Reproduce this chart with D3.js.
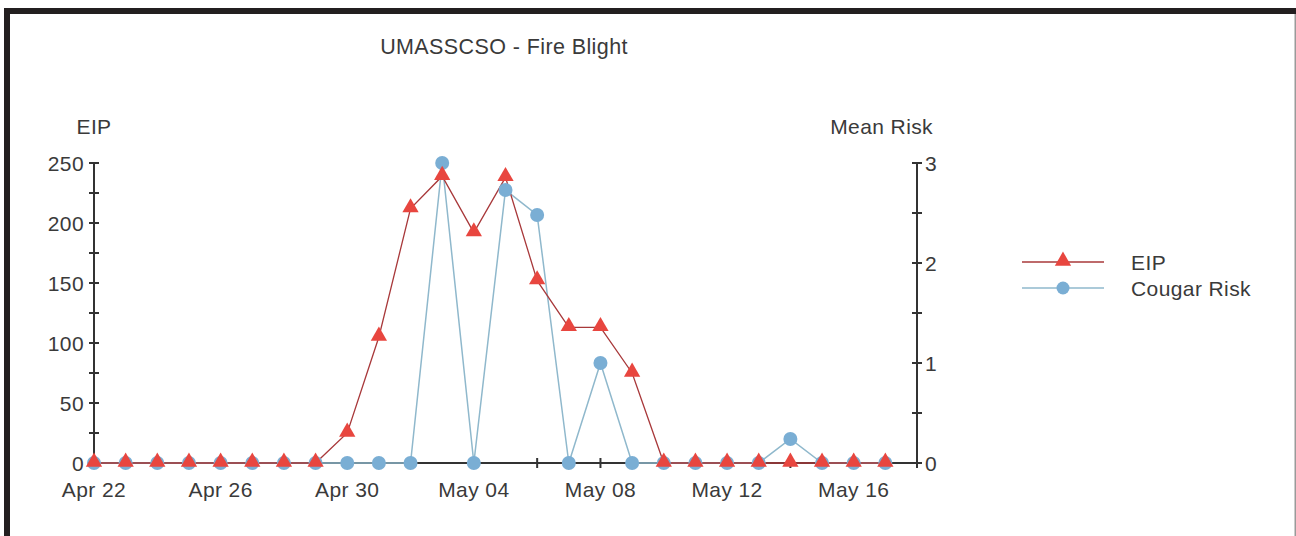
<!DOCTYPE html>
<html>
<head>
<meta charset="utf-8">
<script src="https://cdn.jsdelivr.net/npm/d3@7/dist/d3.min.js"></script>
<style>
  body { margin: 0; background: #fff; }
  svg { display: block; }
  text { font-family: "Liberation Sans", Arial, sans-serif; fill: #3a3a3a; letter-spacing: 0.4px; }
</style>
</head>
<body>
<div id="chart"></div>
<script>
// données
const startDate = "2009-04-22";
const eip = [0, 0, 0, 0, 0, 0, 0, 0, 25, 105, 212, 239, 192, 238, 152, 113, 113, 75, 0, 0, 0, 0, 0, 0, 0, 0];
const cougarRisk = [0, 0, 0, 0, 0, 0, 0, 0, 0, 0, 0, 3, 0, 2.73, 2.48, 0, 1, 0, 0, 0, 0, 0, 0.24, 0, 0, 0];
const seriesNames = ["EIP", "Cougar Risk"];
const leftTicks = [0, 50, 100, 150, 200, 250];
const rightTicks = [0, 1, 2, 3];

const width = 1296, height = 536;
const margin = { left: 94, right: 379, top: 163, bottom: 73 };

const parse = d3.timeParse("%Y-%m-%d");
const t0 = parse(startDate);
const dates = eip.map((_, i) => d3.timeDay.offset(t0, i));

const svg = d3.select("#chart").append("svg")
    .attr("width", width)
    .attr("height", height);

// cadre
svg.append("rect").attr("x", 4).attr("y", 8).attr("width", width - 4).attr("height", 6).attr("fill", "#231f20");
svg.append("rect").attr("x", 4).attr("y", 8).attr("width", 6).attr("height", height - 8).attr("fill", "#231f20");
svg.append("rect").attr("x", width - 1.5).attr("y", 14).attr("width", 1.5).attr("height", height - 14).attr("fill", "#9a9a9a");

const x = d3.scaleTime()
    .domain([t0, d3.timeDay.offset(t0, 26)])
    .range([margin.left, width - margin.right]);
const yL = d3.scaleLinear().domain([0, 250]).range([height - margin.bottom, margin.top]);
const yR = d3.scaleLinear().domain([0, 3]).range([height - margin.bottom, margin.top]);

const axisColor = "#333";
const x0 = x.range()[0], x1 = x.range()[1];
const yb = yL(0), yt = yL(250);

// axes
const axes = svg.append("g").attr("stroke", axisColor).attr("stroke-width", 2);
axes.append("line").attr("x1", x0).attr("x2", x1).attr("y1", yb).attr("y2", yb);
axes.append("line").attr("x1", x0).attr("x2", x0).attr("y1", yb).attr("y2", yt);
axes.append("line").attr("x1", x1).attr("x2", x1).attr("y1", yb).attr("y2", yt);

// graduations gauche (tous les 25)
axes.selectAll(".tl").data(d3.range(0, 251, 25)).enter().append("line")
    .attr("x1", x0 - 5).attr("x2", x0 + 5)
    .attr("y1", d => yL(d)).attr("y2", d => yL(d));
// graduations droite (tous les 0.5)
axes.selectAll(".tr").data(d3.range(0, 3.01, 0.5)).enter().append("line")
    .attr("x1", x1 - 5).attr("x2", x1 + 5)
    .attr("y1", d => yR(d)).attr("y2", d => yR(d));
// graduations x (tous les 2 jours)
axes.selectAll(".tx").data(d3.timeDay.range(t0, d3.timeDay.offset(t0, 27), 2)).enter().append("line")
    .attr("x1", d => x(d)).attr("x2", d => x(d))
    .attr("y1", yb - 5).attr("y2", yb + 5);

const fs = 21;
svg.selectAll(".ll").data(leftTicks).enter().append("text")
    .attr("x", x0 - 10).attr("y", d => yL(d)).attr("dy", "0.36em")
    .attr("text-anchor", "end").attr("font-size", fs).text(d => d);
svg.selectAll(".lr").data(rightTicks).enter().append("text")
    .attr("x", x1 + 8).attr("y", d => yR(d)).attr("dy", "0.36em")
    .attr("text-anchor", "start").attr("font-size", fs).text(d => d);

const fmt = d3.timeFormat("%b %d");
svg.selectAll(".lx").data(d3.timeDay.range(t0, d3.timeDay.offset(t0, 26), 4)).enter().append("text")
    .attr("x", d => x(d)).attr("y", yb + 34)
    .attr("text-anchor", "middle").attr("font-size", fs).text(d => fmt(d));

// titres
svg.append("text").attr("x", 504).attr("y", 54).attr("text-anchor", "middle").attr("font-size", 21.5).text("UMASSCSO - Fire Blight");
svg.append("text").attr("x", 94).attr("y", 134).attr("text-anchor", "middle").attr("font-size", fs).text("EIP");
svg.append("text").attr("x", 933).attr("y", 134).attr("text-anchor", "end").attr("font-size", fs).text("Mean Risk");

const redLine = "#a8383a", redMark = "#e8463f";
const blueLine = "#8fb8cc", blueMark = "#7aaed4";

const tri = d3.symbol().type(d3.symbolTriangle).size(115);

// Cougar Risk
svg.append("path")
    .attr("d", d3.line().x((d, i) => x(dates[i])).y(d => yR(d))(cougarRisk))
    .attr("fill", "none").attr("stroke", blueLine).attr("stroke-width", 1.5);
// EIP
svg.append("path")
    .attr("d", d3.line().x((d, i) => x(dates[i])).y(d => yL(d))(eip))
    .attr("fill", "none").attr("stroke", redLine).attr("stroke-width", 1.3);

svg.append("g").selectAll("circle").data(cougarRisk).enter().append("circle")
    .attr("cx", (d, i) => x(dates[i])).attr("cy", d => yR(d))
    .attr("r", 7).attr("fill", blueMark);
svg.append("g").selectAll("path").data(eip).enter().append("path")
    .attr("d", tri)
    .attr("transform", (d, i) => `translate(${x(dates[i])},${yL(d) - 1})`)
    .attr("fill", redMark);

// légende
const lg = svg.append("g");
const lgY = [262, 288];
const lgCol = [[redLine, redMark], [blueLine, blueMark]];
seriesNames.forEach((name, i) => {
    lg.append("line").attr("x1", 1022).attr("x2", 1104).attr("y1", lgY[i]).attr("y2", lgY[i])
        .attr("stroke", lgCol[i][0]).attr("stroke-width", 1.5);
    if (i === 0) {
        lg.append("path").attr("d", tri).attr("transform", `translate(1063,${lgY[i] - 1})`).attr("fill", lgCol[i][1]);
    } else {
        lg.append("circle").attr("cx", 1063).attr("cy", lgY[i]).attr("r", 6.5).attr("fill", lgCol[i][1]);
    }
    lg.append("text").attr("x", 1131).attr("y", lgY[i]).attr("dy", "0.36em").attr("font-size", fs).text(name);
});
</script>
</body>
</html>
